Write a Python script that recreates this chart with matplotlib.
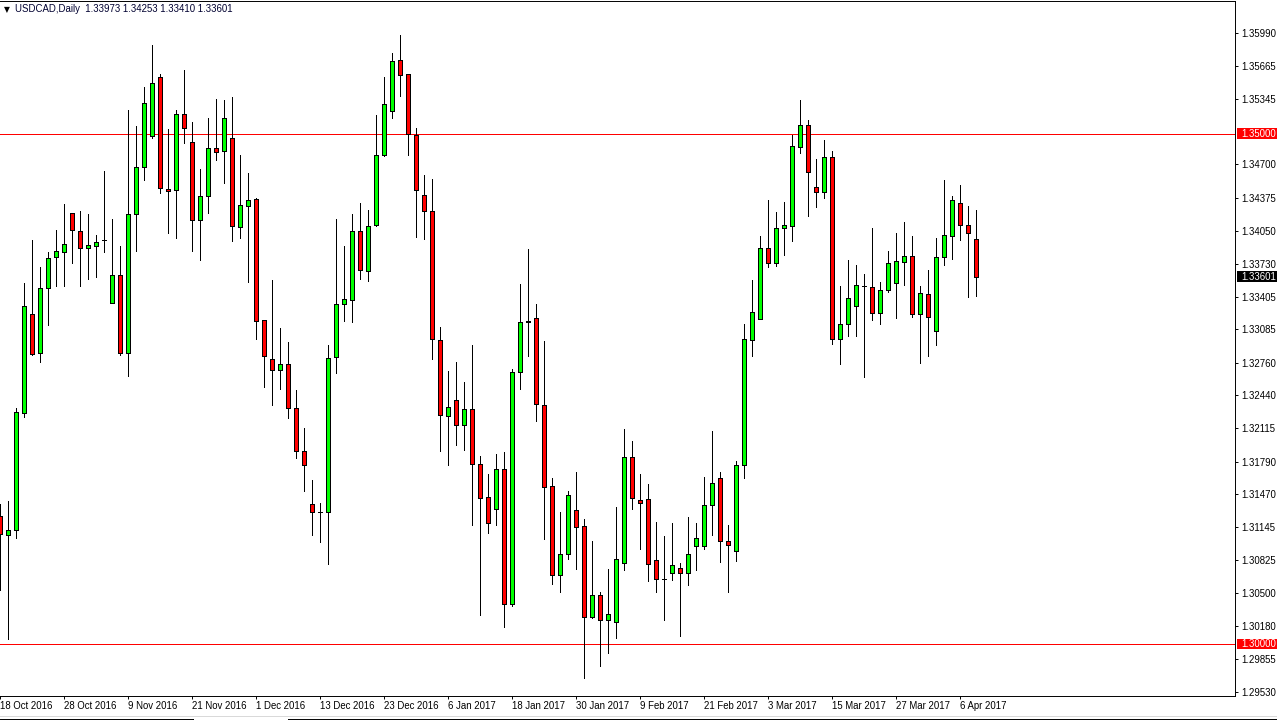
import matplotlib.pyplot as plt
from matplotlib.patches import Rectangle
from matplotlib.lines import Line2D

plt.rcParams['font.family'] = ['Liberation Sans', 'DejaVu Sans']

# USDCAD daily bars, 18 Oct 2016 .. 10 Apr 2017
opens = [1.31255, 1.31070, 1.31124, 1.32264, 1.33231, 1.32856, 1.33494, 1.33794, 1.33844, 1.34226,
         1.34049, 1.33881, 1.33901, 1.33959, 1.33342, 1.33613, 1.32856, 1.34214, 1.34671, 1.34975,
         1.35560, 1.34461, 1.34449, 1.35193, 1.34918, 1.34156, 1.34391, 1.34860, 1.34831, 1.34959,
         1.34086, 1.34292, 1.34362, 1.33173, 1.32798, 1.32687, 1.32749, 1.32317, 1.31897, 1.31379,
         1.31292, 1.31301, 1.32819, 1.33333, 1.33375, 1.34049, 1.33658, 1.34107, 1.34790, 1.35226,
         1.35720, 1.35584, 1.34992, 1.34399, 1.34243, 1.32984, 1.32235, 1.32395, 1.32152, 1.32309,
         1.31770, 1.31440, 1.31329, 1.31720, 1.30399, 1.32671, 1.33165, 1.33198, 1.32346, 1.31547,
         1.30675, 1.30881, 1.31313, 1.31157, 1.30264, 1.30482, 1.30239, 1.30218, 1.30794, 1.31831,
         1.31416, 1.31420, 1.30823, 1.30642, 1.30696, 1.30745, 1.30696, 1.30967, 1.30967, 1.31362,
         1.31626, 1.31017, 1.30918, 1.31753, 1.32984, 1.33189, 1.33881, 1.33737, 1.34082, 1.34099,
         1.34872, 1.35086, 1.34477, 1.34432, 1.34774, 1.32992, 1.33140, 1.33313, 1.33506, 1.33502,
         1.33247, 1.33469, 1.33539, 1.33749, 1.33802, 1.33239, 1.33432, 1.33070, 1.33794, 1.34000,
         1.34321, 1.34107, 1.33973]
highs = [1.31379, 1.31399, 1.32313, 1.33539, 1.33963, 1.33700, 1.33840, 1.34054, 1.34317, 1.34226,
         1.34247, 1.34218, 1.34008, 1.34638, 1.34161, 1.33897, 1.35235, 1.35078, 1.35461, 1.35872,
         1.35588, 1.35049, 1.35235, 1.35625, 1.35119, 1.34658, 1.35156, 1.35342, 1.35333, 1.35362,
         1.34794, 1.34621, 1.34370, 1.33177, 1.33564, 1.33103, 1.32959, 1.32490, 1.32115, 1.31609,
         1.31383, 1.32930, 1.34161, 1.33905, 1.34210, 1.34325, 1.34255, 1.35185, 1.35560, 1.35794,
         1.35967, 1.35584, 1.35058, 1.34597, 1.34556, 1.33111, 1.32675, 1.32761, 1.32568, 1.32930,
         1.31844, 1.31667, 1.31868, 1.31881, 1.32692, 1.33527, 1.33868, 1.33333, 1.32975, 1.31626,
         1.31296, 1.31502, 1.31687, 1.31226, 1.31013, 1.30515, 1.30737, 1.31346, 1.32107, 1.31992,
         1.31667, 1.31568, 1.31198, 1.31062, 1.31190, 1.30799, 1.31247, 1.31190, 1.31638, 1.32087,
         1.31687, 1.31169, 1.31794, 1.33136, 1.33564, 1.34004, 1.34354, 1.34239, 1.34337, 1.34988,
         1.35333, 1.35140, 1.34749, 1.34942, 1.34827, 1.33514, 1.33765, 1.33712, 1.33630, 1.34082,
         1.33551, 1.33848, 1.34025, 1.34132, 1.33996, 1.33506, 1.33671, 1.33984, 1.34543, 1.34387,
         1.34494, 1.34296, 1.34253]
lows = [1.30535, 1.30050, 1.31045, 1.32222, 1.32831, 1.32766, 1.33128, 1.33510, 1.33510, 1.33733,
        1.33510, 1.33576, 1.33593, 1.33840, 1.33342, 1.32831, 1.32626, 1.33848, 1.34547, 1.34955,
        1.34420, 1.34029, 1.33979, 1.34909, 1.33852, 1.33765, 1.34222, 1.34741, 1.34519, 1.33951,
        1.33979, 1.33547, 1.32992, 1.32523, 1.32346, 1.32502, 1.32218, 1.31827, 1.31506, 1.31066,
        1.31004, 1.30790, 1.32659, 1.33169, 1.33156, 1.33576, 1.33560, 1.34095, 1.34782, 1.35152,
        1.35366, 1.34790, 1.33988, 1.33967, 1.32794, 1.31897, 1.31761, 1.31955, 1.31906, 1.31173,
        1.30284, 1.31095, 1.31173, 1.30173, 1.30371, 1.32502, 1.32827, 1.32189, 1.31033, 1.30593,
        1.30515, 1.30840, 1.30741, 1.29671, 1.30255, 1.29786, 1.29918, 1.30058, 1.30725, 1.31329,
        1.30930, 1.30618, 1.30515, 1.30235, 1.30626, 1.30078, 1.30585, 1.30725, 1.30933, 1.31074,
        1.30811, 1.30515, 1.30815, 1.31634, 1.32827, 1.33189, 1.33696, 1.33704, 1.33811, 1.33951,
        1.34811, 1.34193, 1.34280, 1.34370, 1.32938, 1.32745, 1.33021, 1.33021, 1.32622, 1.33181,
        1.33140, 1.33453, 1.33198, 1.33519, 1.33210, 1.32757, 1.32827, 1.32934, 1.33716, 1.33774,
        1.33959, 1.33403, 1.33410]
closes = [1.31078, 1.31124, 1.32272, 1.33309, 1.32840, 1.33494, 1.33786, 1.33856, 1.33922, 1.34058,
          1.33881, 1.33914, 1.33942, 1.33959, 1.33613, 1.32856, 1.34218, 1.34679, 1.35305, 1.35498,
          1.34469, 1.34440, 1.35193, 1.35058, 1.34156, 1.34391, 1.34860, 1.34819, 1.35152, 1.34095,
          1.34305, 1.34350, 1.33169, 1.32827, 1.32687, 1.32749, 1.32317, 1.31889, 1.31761, 1.31292,
          1.31292, 1.32807, 1.33333, 1.33383, 1.34049, 1.33667, 1.34099, 1.34790, 1.35292, 1.35712,
          1.35576, 1.35000, 1.34453, 1.34243, 1.32992, 1.32251, 1.32329, 1.32152, 1.32309, 1.31770,
          1.31432, 1.31185, 1.31720, 1.30399, 1.32671, 1.33161, 1.33160, 1.32358, 1.31543, 1.30675,
          1.30881, 1.31461, 1.31152, 1.30268, 1.30482, 1.30239, 1.30297, 1.30832, 1.31831, 1.31432,
          1.31383, 1.30782, 1.30638, 1.30642, 1.30774, 1.30696, 1.30889, 1.31037, 1.31362, 1.31585,
          1.31017, 1.30975, 1.31753, 1.32988, 1.33251, 1.33881, 1.33737, 1.34082, 1.34103, 1.34885,
          1.35086, 1.34630, 1.34432, 1.34774, 1.32992, 1.33140, 1.33395, 1.33523, 1.33506, 1.33247,
          1.33473, 1.33737, 1.33757, 1.33802, 1.33239, 1.33444, 1.33206, 1.33794, 1.34008, 1.34350,
          1.34107, 1.34029, 1.33601]

date_labels = ["18 Oct 2016", "28 Oct 2016", "9 Nov 2016", "21 Nov 2016", "1 Dec 2016",
               "13 Dec 2016", "23 Dec 2016", "6 Jan 2017", "18 Jan 2017", "30 Jan 2017",
               "9 Feb 2017", "21 Feb 2017", "3 Mar 2017", "15 Mar 2017", "27 Mar 2017", "6 Apr 2017"]
price_ticks = [1.35990, 1.35665, 1.35345, 1.34700, 1.34375, 1.34050, 1.33730, 1.33405, 1.33085,
               1.32760, 1.32440, 1.32115, 1.31790, 1.31470, 1.31145, 1.30825, 1.30500, 1.30180,
               1.29855, 1.29530]
levels = [1.35000, 1.30000]

W, H = 1277, 720
LW = 0.7  # about one pixel
fig = plt.figure(figsize=(W / 100, H / 100), dpi=100)
ax = fig.add_axes([0, 24 / H, 1235 / W, 695 / H])

x = list(range(len(opens)))
bottoms = [min(o, c) for o, c in zip(opens, closes)]
heights = [abs(c - o) for o, c in zip(opens, closes)]
colors = ['#00ff00' if c > o else '#ff0000' for o, c in zip(opens, closes)]

for lv in levels:
    ax.axhline(lv, color='#ff0000', lw=LW, zorder=1, antialiased=False)

ax.vlines(x, lows, highs, color='black', lw=LW, zorder=2, antialiased=False)
ax.bar(x, heights, bottom=bottoms, width=0.55, color=colors, edgecolor='black',
       linewidth=LW, zorder=3, antialiased=False)

ax.set_xlim(-0.0375, 154.34)
ax.set_ylim(1.29494, 1.36301)

# price scale on the right
ax.yaxis.tick_right()
ax.set_yticks(price_ticks)
ax.set_yticklabels([f"{v:.5f}" for v in price_ticks])
ax.tick_params(axis='y', length=2.3, width=LW, pad=2.2, labelsize=6.9, colors='black')

# time scale, label every 8 bars, text starts at the tick
ax.set_xticks(range(0, 8 * len(date_labels), 8))
ax.set_xticklabels(date_labels)
for lbl in ax.get_xticklabels():
    lbl.set_horizontalalignment('left')
ax.tick_params(axis='x', length=2.3, width=LW, pad=1.0, labelsize=6.9, colors='black')

ax.spines['left'].set_visible(False)
for s in ['top', 'right', 'bottom']:
    ax.spines[s].set_linewidth(LW)
    ax.spines[s].set_color('black')

# red level tags and current price tag on the price scale
px = (ax.get_ylim()[1] - ax.get_ylim()[0]) / 695
tr = ax.get_yaxis_transform()
for v, fc in [(levels[0], '#ff0000'), (levels[1], '#ff0000'), (closes[-1], 'black')]:
    ax.add_patch(Rectangle((1237 / 1235, v - 5 * px), 41 / 1235, 10.5 * px, transform=tr,
                           facecolor=fc, edgecolor='none', clip_on=False, zorder=5))
    ax.text(1241 / 1235, v, f"{v:.5f}", transform=tr, color='white', fontsize=6.9,
            va='center', ha='left', clip_on=False, zorder=6)

# header
fig.text(3.5 / W, 1 - 9.5 / H, "\u25bc", fontsize=5.5, color='black', va='center', ha='left',
         family='DejaVu Sans')
fig.text(15 / W, 1 - 9 / H,
         f"USDCAD,Daily  {opens[-1]:.5f} {highs[-1]:.5f} {lows[-1]:.5f} {closes[-1]:.5f}",
         fontsize=6.9, color='#000030', va='center', ha='left')

# window tab strip at the bottom
fig.add_artist(Line2D([0, 1], [1 - 715.5 / H] * 2, color='#d8d8d8', lw=LW))
fig.add_artist(Line2D([0, 193 / W], [1 - 718.5 / H] * 2, color='black', lw=LW))
fig.add_artist(Line2D([288 / W, 1], [1 - 718.5 / H] * 2, color='black', lw=LW))
fig.add_artist(Line2D([193 / W] * 2, [0, 1 - 718.5 / H], color='black', lw=LW))
fig.add_artist(Line2D([288 / W] * 2, [0, 1 - 718.5 / H], color='black', lw=LW))

fig.savefig("out.png", dpi=100)
